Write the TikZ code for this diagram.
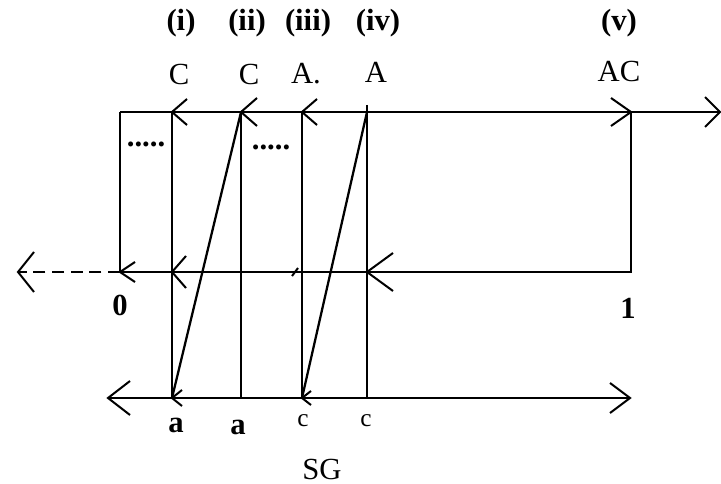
\documentclass[tikz,border=0pt]{standalone}
\usepackage{fontspec}
\setmainfont{Liberation Serif}
\newcommand\chv[3]{\draw[chev] (#1) ++(#2,#3) -- (#1) -- ++(#2,-#3);}
\begin{document}
\begin{tikzpicture}[x=0.75pt,y=-0.75pt,
  ln/.style={line width=2pt},
  dg/.style={line width=1.7pt},
  chev/.style={line width=1.5pt},
  lab/.style={font=\fontsize{23}{27}\selectfont\bfseries, inner sep=0pt},
  let/.style={font=\fontsize{23}{27}\selectfont, inner sep=0pt},
  sm/.style={font=\fontsize{19}{22}\selectfont, inner sep=0pt}]
\useasboundingbox (0,0) rectangle (721,484);
% coordinates
\coordinate (TL) at (120,112); \coordinate (TR) at (631,112); \coordinate (TE) at (720,112);
\coordinate (ML) at (120,272); \coordinate (MR) at (631,272); \coordinate (MD) at (18,272);
\coordinate (BL) at (108,398); \coordinate (BR) at (630,398);
\coordinate (T1) at (172,112); \coordinate (B1) at (172,398);
\coordinate (T2) at (241,112); \coordinate (B2) at (241,398);
\coordinate (T3) at (302,112); \coordinate (B3) at (302,398);
\coordinate (T4) at (367,105); \coordinate (B4) at (367,398);
\coordinate (M1) at (172,272); \coordinate (M4) at (367,272);
\coordinate (Q1) at (241,112); \coordinate (Q2) at (367,112);
% frame lines
\draw[ln] (TL) -- (TE);
\draw[ln] (TL) -- (ML) -- (MR) -- (TR);
\draw[ln,dash pattern=on 9pt off 5pt] (ML) -- (MD);
\draw[ln] (BL) -- (BR);
% verticals
\draw[ln] (T1) -- (B1);
\draw[ln] (T2) -- (B2);
\draw[ln] (T3) -- (B3);
\draw[ln] (T4) -- (B4);
% diagonals
\draw[dg] (B1) -- (Q1);
\draw[dg] (B3) -- (Q2);
% chevrons
\chv{T1}{15}{13}
\chv{T2}{16}{14}
\chv{T3}{15}{13}
\chv{TR}{-20}{14}
\chv{TE}{-15}{15}
\chv{ML}{15}{10}
\chv{M1}{14}{16}
\chv{M4}{26}{19}
\chv{MD}{16}{20}
\chv{BL}{22}{17}
\chv{BR}{-20}{15}
\chv{B1}{10}{8}
\chv{B3}{9}{7}
\coordinate (K) at (295,272);
\draw[chev] (K) ++(-3,4) -- ++(6,-8);
% labels
\node[lab] (l1) at (181,23) {(i)};
\node[lab] (l2) at (247,23) {(ii)};
\node[lab] (l3) at (308,23) {(iii)};
\node[lab] (l4) at (378,23) {(iv)};
\node[lab] (l5) at (619,23) {(v)};
\node[let] (c1) at (179,75) {C};
\node[let] (c2) at (249,75) {C};
\node[let] (c3) at (306,74) {A.};
\node[let] (c4) at (376,72) {A};
\node[let] (c5) at (619,72) {AC};
\node[lab] (d1) at (146,144) {.....};
\node[lab] (d2) at (271,147) {.....};
\node[lab] (z0) at (120,305) {0};
\node[lab] (z1) at (628,308) {1};
\node[lab] (a1) at (176,425) {a};
\node[lab] (a2) at (238,427) {a};
\node[sm] (s1) at (303,421) {c};
\node[sm] (s2) at (366,421) {c};
\node[let] (sg) at (322,469) {SG};
\end{tikzpicture}
\end{document}
